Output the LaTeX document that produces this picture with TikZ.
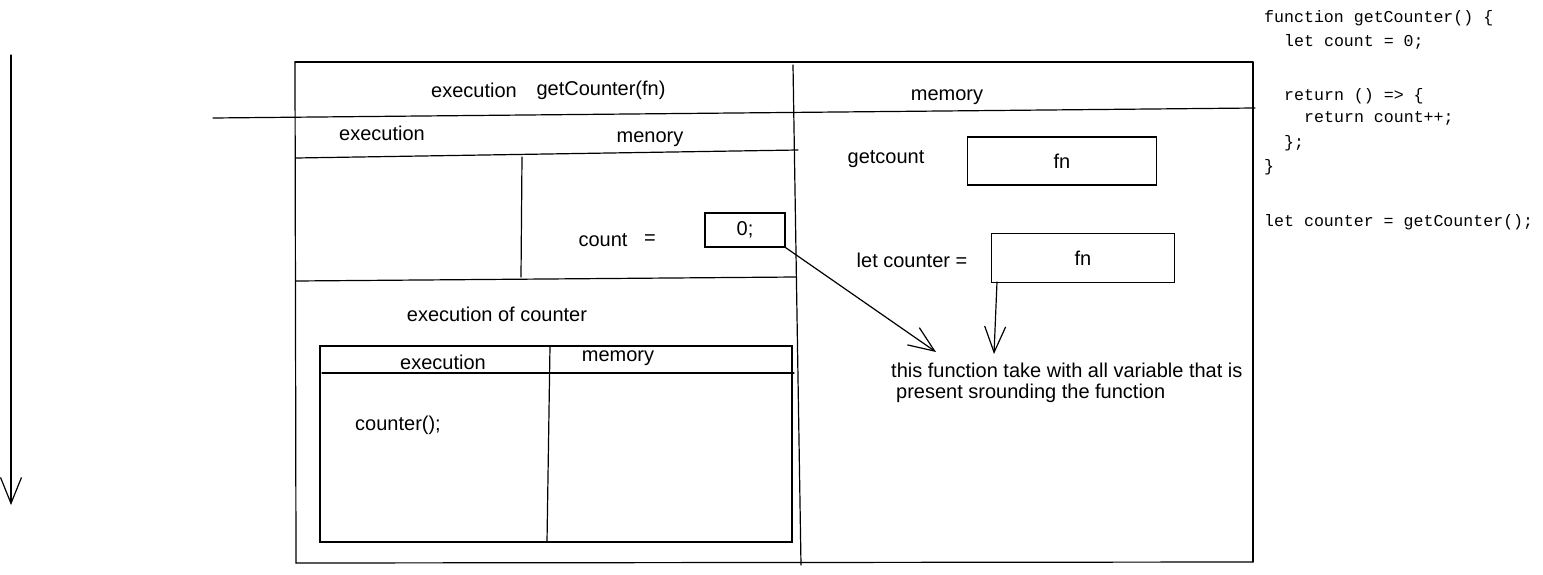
\documentclass[tikz,border=0pt]{standalone}
\usepackage{fontspec}
\setmainfont{Liberation Sans}
\newfontfamily\codefont{Liberation Mono}
\usetikzlibrary{arrows.meta}
\tikzset{
  ln/.style={line width=1.2pt, line cap=round},
  lbl/.style={inner sep=0pt, font=\fontsize{20}{20}\selectfont},
  code/.style={inner sep=0pt, anchor=west, font=\codefont\fontsize{16.6}{16}\selectfont},
  valbox/.style={draw, line width=1.2pt, inner sep=0pt, font=\fontsize{20}{20}\selectfont},
  barb/.style={-{Straight Barb[length=26pt,width=21pt,line width=1.2pt]}}
}
\begin{document}
\begin{tikzpicture}[x=1pt,y=-1pt]
\useasboundingbox (0,0) rectangle (1543,575);

% time arrow on the left
\coordinate (tTop) at (11,55);
\coordinate (tBot) at (11,505);
\draw[ln,barb] (tTop) -- (tBot);

% outer frame
\draw[ln] (295,62) -- (1253,62);
\draw[ln] (295,62) -- (296,563);
\draw[ln] (296,563) -- (1253,562);
\draw[ln] (1253,62) -- (1253,562);
\draw[ln] (793,65) -- (801,565);
\draw[ln] (213,118) -- (1255,108);

% inner getCounter frame
\draw[ln] (296,158) -- (798,150);
\draw[ln] (522,157) -- (521,277);
\draw[ln] (296,281) -- (796,277);

% execution of counter box
\draw[ln] (320,346) rectangle (792,542);
\draw[ln] (322,373) -- (794,373);
\draw[ln] (550,346) -- (547,542);

% labels
\node[lbl] (ex1) at (474,90) {execution};
\node[lbl] (gc) at (601,90) {getCounter(fn)};
\node[lbl] (ex2) at (382,133) {execution};
\node[lbl] (men) at (650,139) {menory};
\node[lbl] (mem1) at (947,97) {memory};
\node[lbl] (cnt) at (603,240) {count};
\node[lbl] (eq) at (650,240) {=};
\node[valbox, minimum width=80pt, minimum height=34pt] (zero) at (745,230) {0;};
\node[lbl] (getcount) at (886,159) {getcount};
\node[valbox, minimum width=189pt, minimum height=48pt] (fn1) at (1062,161) {fn};
\node[lbl] (letc) at (912,260) {let counter =};
\node[valbox, minimum width=183pt, minimum height=49pt] (fn2) at (1083,258) {fn};
\node[lbl, anchor=west] (note1) at (891,370) {this function take with all variable that is};
\node[lbl, anchor=west] (note2) at (896,393) {present srounding the function};
\node[lbl] (exc) at (497,314) {execution of counter};
\node[lbl] (ex3) at (443,362) {execution};
\node[lbl] (mem2) at (618,358) {memory};
\node[lbl] (call) at (398,425) {counter();};

% arrows
\coordinate (a1) at (936,352);
\draw[ln,barb] (zero.south east) -- (a1);
\coordinate (a2s) at (997,282);
\coordinate (a2) at (994,354);
\draw[ln,barb] (a2s) -- (a2);

% code
\node[code] (c1) at (1264,18) {function getCounter() \{};
\node[code] (c2) at (1284,42) {let count = 0;};
\node[code] (c3) at (1284,96) {return () => \{};
\node[code] (c4) at (1304,118) {return count++;};
\node[code] (c5) at (1284,143) {\};};
\node[code] (c6) at (1264,167) {\}};
\node[code] (c7) at (1264,222) {let counter = getCounter();};
\end{tikzpicture}
\end{document}
